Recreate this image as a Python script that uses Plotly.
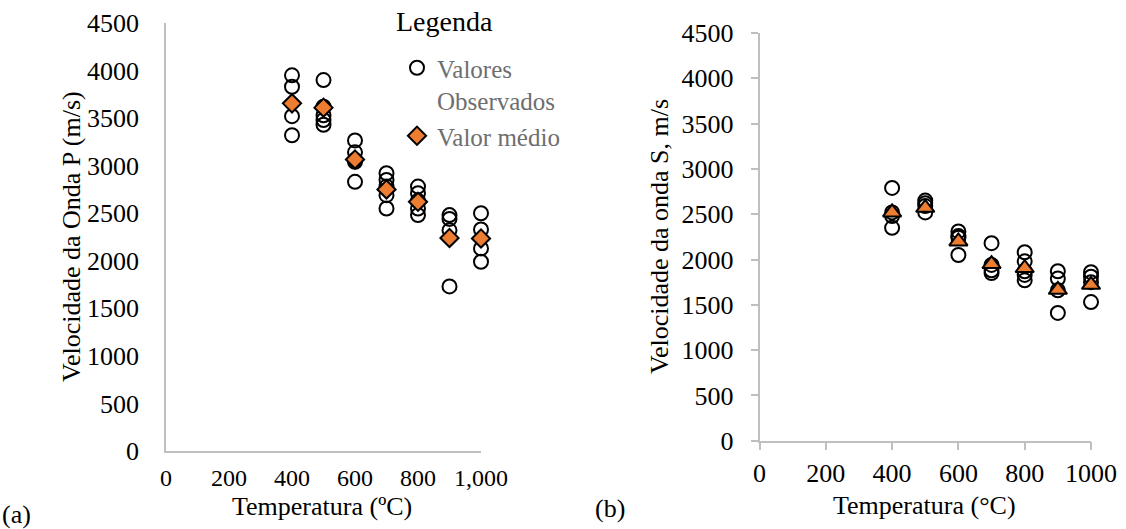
import plotly.graph_objects as go

# ---------------- data ----------------
temps = [400, 500, 600, 700, 800, 900, 1000]

# P-wave observed values (m/s) per temperature
vp_400 = [3950, 3830, 3520, 3320]
vp_500 = [3900, 3620, 3530, 3480, 3430]
vp_600 = [3265, 3140, 3060, 3040, 2830]
vp_700 = [2920, 2850, 2780, 2690, 2550]
vp_800 = [2780, 2710, 2630, 2550, 2480]
vp_900 = [2480, 2440, 2320, 1730]
vp_1000 = [2500, 2330, 2130, 1990]
vp_mean = [3655, 3610, 3065, 2750, 2620, 2240, 2235]

# S-wave observed values (m/s) per temperature
vs_400 = [2790, 2520, 2480, 2350]
vs_500 = [2650, 2620, 2590, 2520]
vs_600 = [2310, 2260, 2240, 2050]
vs_700 = [2180, 1940, 1880, 1850]
vs_800 = [2080, 1980, 1870, 1830, 1770]
vs_900 = [1870, 1790, 1660, 1410]
vs_1000 = [1860, 1810, 1750, 1530]
vs_mean = [2520, 2570, 2200, 1950, 1905, 1665, 1720]

x_ticks_a = [0, 200, 400, 600, 800, 1000]
x_text_a = ["0", "200", "400", "600", "800", "1,000"]
x_text_b = ["0", "200", "400", "600", "800", "1000"]
y_ticks = [0, 500, 1000, 1500, 2000, 2500, 3000, 3500, 4000, 4500]

vp_groups = [vp_400, vp_500, vp_600, vp_700, vp_800, vp_900, vp_1000]
vs_groups = [vs_400, vs_500, vs_600, vs_700, vs_800, vs_900, vs_1000]

def flatten(groups):
    xs, ys = [], []
    for t, g in zip(temps, groups):
        for v in g:
            xs.append(t)
            ys.append(v)
    return xs, ys

vpx, vpy = flatten(vp_groups)
vsx, vsy = flatten(vs_groups)

FONT = "Liberation Serif, serif"
ORANGE = "#ED7D31"
AXCOL = "#BFBFBF"
W, H = 1126, 529

fig = go.Figure()

fig.add_trace(go.Scatter(
    x=vpx, y=vpy, mode="markers", name="Valores<br>Observados", cliponaxis=False,
    marker=dict(symbol="circle-open", size=14, color="black", line=dict(width=2, color="black")),
    xaxis="x", yaxis="y", showlegend=True))
fig.add_trace(go.Scatter(
    x=temps, y=vp_mean, mode="markers", name="Valor médio", cliponaxis=False,
    marker=dict(symbol="diamond", size=14, color=ORANGE, line=dict(width=2, color="black")),
    xaxis="x", yaxis="y", showlegend=True))

fig.add_trace(go.Scatter(
    x=vsx, y=vsy, mode="markers", name="obs S", cliponaxis=False,
    marker=dict(symbol="circle-open", size=14, color="black", line=dict(width=2, color="black")),
    xaxis="x2", yaxis="y2", showlegend=False))
fig.add_trace(go.Scatter(
    x=temps, y=vs_mean, mode="markers", name="média S", cliponaxis=False,
    marker=dict(symbol="triangle-up", size=16, color=ORANGE, line=dict(width=2, color="black")),
    xaxis="x2", yaxis="y2", showlegend=False))

def px_x(p):
    return p / W

def px_y(p):
    return (H - p) / H

common_axis = dict(showgrid=False, zeroline=False, showline=True, linecolor=AXCOL,
                   linewidth=1.5, automargin=False, fixedrange=True)
tf26 = dict(family=FONT, size=26, color="black")
tf24 = dict(family=FONT, size=24, color="black")

fig.update_layout(
    template="none",
    width=W, height=H,
    margin=dict(l=0, r=0, t=0, b=0, autoexpand=False),
    paper_bgcolor="white", plot_bgcolor="white",
    font=dict(family=FONT, color="black"),
    xaxis=dict(domain=[px_x(166), px_x(481)], range=[0, 1000], tickvals=x_ticks_a,
               ticktext=x_text_a, anchor="y", ticks="", ticklabelstandoff=4,
               tickfont=tf24, **common_axis),
    yaxis=dict(domain=[px_y(451), px_y(23)], range=[0, 4500], tickvals=y_ticks,
               anchor="x", ticks="", ticklabelstandoff=20, tickfont=tf26, **common_axis),
    xaxis2=dict(domain=[px_x(759.5), px_x(1091)], range=[0, 1000], tickvals=x_ticks_a,
                ticktext=x_text_b, anchor="y2", ticks="outside", ticklen=8, tickwidth=1.5,
                tickcolor=AXCOL, ticklabelstandoff=0, tickfont=tf26, **common_axis),
    yaxis2=dict(domain=[px_y(440.7), px_y(33)], range=[0, 4500], tickvals=y_ticks,
                anchor="x2", ticks="outside", ticklen=7, tickwidth=1.5, tickcolor=AXCOL,
                ticklabelstandoff=12, tickfont=tf26, **common_axis),
    legend=dict(x=px_x(397), y=px_y(45), xanchor="left", yanchor="top",
                bgcolor="rgba(0,0,0,0)", valign="top", tracegroupgap=0,
                font=dict(family=FONT, size=25, color="#6E6E6E")),
    showlegend=True,
)

annos = [
    dict(text="Legenda", x=px_x(444), y=px_y(22), size=28),
    dict(text="Velocidade da Onda P (m/s)", x=px_x(72), y=px_y(237), textangle=-90),
    dict(text="Velocidade da onda S, m/s", x=px_x(660), y=px_y(237), textangle=-90),
    dict(text="Temperatura (ºC)", x=px_x(322), y=px_y(506)),
    dict(text="Temperatura (°C)", x=px_x(924), y=px_y(505)),
    dict(text="(a)", x=px_x(16), y=px_y(514)),
    dict(text="(b)", x=px_x(610), y=px_y(508)),
]
for a in annos:
    size = a.pop("size", 26)
    fig.add_annotation(xref="paper", yref="paper", showarrow=False,
                       xanchor="center", yanchor="middle",
                       font=dict(family=FONT, size=size, color="black"), **a)

fig.write_html("out.html")
